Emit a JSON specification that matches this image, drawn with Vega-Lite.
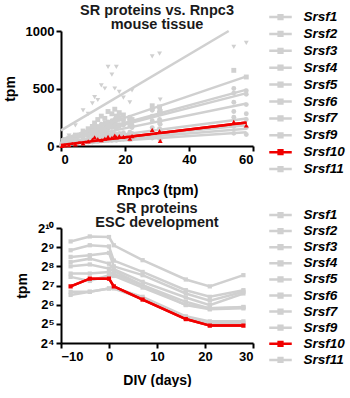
{
  "$schema": "https://vega.github.io/schema/vega-lite/v6.json",
  "background": "white",
  "padding": {"left": 3, "top": 2, "right": 0, "bottom": 0},
  "spacing": 3,
  "config": {
    "font": "Liberation Sans",
    "view": {"stroke": null},
    "axis": {"domainColor": "black", "domainWidth": 2, "tickColor": "black", "tickWidth": 2, "tickSize": 5, "labelFont": "Liberation Sans", "labelFontWeight": "bold", "labelFontSize": 13, "labelColor": "black", "titleFont": "Liberation Sans", "titleFontWeight": "bold", "titleFontSize": 14, "titleColor": "black", "grid": false, "labelPadding": 2},
    "title": {"font": "Liberation Sans", "fontSize": 14.5, "fontWeight": "bold", "color": "#1a1a1a", "anchor": "middle", "lineHeight": 14, "offset": -24},
    "legend": {"symbolType": "M-1.5,0H1.5M-0.25,-0.25H0.25V0.25H-0.25Z", "symbolSize": 225, "symbolStrokeWidth": 2.5, "labelFont": "Liberation Sans", "labelFontWeight": "bold", "labelFontStyle": "italic", "labelFontSize": 13.5, "labelColor": "black", "labelOffset": 14, "labelLimit": 200, "padding": 0}
  },
  "resolve": {"scale": {"color": "independent"}},
  "datasets": {
    "tissue": [
      {"x": 0.3, "Srsf1": 12, "Srsf2": 15, "Srsf3": 20, "Srsf4": 10, "Srsf5": 12, "Srsf6": 10, "Srsf7": 8, "Srsf9": 5, "Srsf10": 2, "Srsf11": 5},
      {"x": 1.2, "Srsf1": 40, "Srsf2": 45, "Srsf3": 60, "Srsf4": 30, "Srsf5": 35, "Srsf6": 30, "Srsf7": 20, "Srsf9": 15, "Srsf10": 5, "Srsf11": 12},
      {"x": 2.5, "Srsf1": 70, "Srsf2": 60, "Srsf3": 90, "Srsf4": 45, "Srsf5": 55, "Srsf6": 45, "Srsf7": 30, "Srsf9": 25, "Srsf10": 8, "Srsf11": 18},
      {"x": 4.5, "Srsf1": 95, "Srsf2": 85, "Srsf3": 180, "Srsf4": 60, "Srsf5": 80, "Srsf6": 65, "Srsf7": 40, "Srsf9": 30, "Srsf10": 15, "Srsf11": 25},
      {"x": 6.9, "Srsf1": 130, "Srsf2": 110, "Srsf3": 310, "Srsf4": 80, "Srsf5": 100, "Srsf6": 90, "Srsf7": 55, "Srsf9": 40, "Srsf10": 22, "Srsf11": 30},
      {"x": 8.5, "Srsf1": 150, "Srsf2": 130, "Srsf3": 280, "Srsf4": 90, "Srsf5": 120, "Srsf6": 100, "Srsf7": 60, "Srsf9": 45, "Srsf10": 40, "Srsf11": 35},
      {"x": 9.8, "Srsf1": 170, "Srsf2": 160, "Srsf3": 370, "Srsf4": 100, "Srsf5": 140, "Srsf6": 115, "Srsf7": 70, "Srsf9": 50, "Srsf10": 55, "Srsf11": 35},
      {"x": 10.5, "Srsf1": 200, "Srsf2": 180, "Srsf3": 426, "Srsf4": 110, "Srsf5": 150, "Srsf6": 120, "Srsf7": 75, "Srsf9": 55, "Srsf10": 75, "Srsf11": 40},
      {"x": 11.5, "Srsf1": 230, "Srsf2": 170, "Srsf3": 400, "Srsf4": 120, "Srsf5": 160, "Srsf6": 130, "Srsf7": 80, "Srsf9": 60, "Srsf10": 60, "Srsf11": 40},
      {"x": 12.6, "Srsf1": 260, "Srsf2": 190, "Srsf3": 528, "Srsf4": 130, "Srsf5": 170, "Srsf6": 140, "Srsf7": 90, "Srsf9": 65, "Srsf10": 50, "Srsf11": 45},
      {"x": 13.7, "Srsf1": 240, "Srsf2": 200, "Srsf3": 500, "Srsf4": 140, "Srsf5": 185, "Srsf6": 150, "Srsf7": 95, "Srsf9": 70, "Srsf10": 65, "Srsf11": 45},
      {"x": 14.7, "Srsf1": 300, "Srsf2": 210, "Srsf3": 687, "Srsf4": 150, "Srsf5": 190, "Srsf6": 160, "Srsf7": 100, "Srsf9": 75, "Srsf10": 80, "Srsf11": 50},
      {"x": 15.9, "Srsf1": 280, "Srsf2": 220, "Srsf3": 620, "Srsf4": 160, "Srsf5": 200, "Srsf6": 170, "Srsf7": 105, "Srsf9": 80, "Srsf10": 70, "Srsf11": 50},
      {"x": 16.8, "Srsf1": 320, "Srsf2": 230, "Srsf3": 500, "Srsf4": 165, "Srsf5": 210, "Srsf6": 175, "Srsf7": 110, "Srsf9": 85, "Srsf10": 90, "Srsf11": 55},
      {"x": 17.3, "Srsf1": 260, "Srsf2": 240, "Srsf3": 687, "Srsf4": 150, "Srsf5": 220, "Srsf6": 180, "Srsf7": 100, "Srsf9": 80, "Srsf10": 75, "Srsf11": 50},
      {"x": 18.2, "Srsf1": 290, "Srsf2": 250, "Srsf3": 470, "Srsf4": 170, "Srsf5": 230, "Srsf6": 185, "Srsf7": 110, "Srsf9": 85, "Srsf10": 85, "Srsf11": 55},
      {"x": 19.5, "Srsf1": 270, "Srsf2": 230, "Srsf3": 420, "Srsf4": 180, "Srsf5": 220, "Srsf6": 190, "Srsf7": 115, "Srsf9": 90, "Srsf10": 80, "Srsf11": 60},
      {"x": 21.5, "Srsf1": 240, "Srsf2": 250, "Srsf3": 380, "Srsf4": 175, "Srsf5": 230, "Srsf6": 200, "Srsf7": 120, "Srsf9": 90, "Srsf10": 65, "Srsf11": 55},
      {"x": 22.2, "Srsf1": 230, "Srsf2": 220, "Srsf3": 484, "Srsf4": 160, "Srsf5": 210, "Srsf6": 180, "Srsf7": 110, "Srsf9": 85, "Srsf10": 85, "Srsf11": 60},
      {"x": 28.5, "Srsf1": 350, "Srsf2": 320, "Srsf3": 780, "Srsf4": 220, "Srsf5": 310, "Srsf6": 260, "Srsf7": 160, "Srsf9": 110, "Srsf10": 140, "Srsf11": 70},
      {"x": 30.8, "Srsf1": 340, "Srsf2": 300, "Srsf3": 803, "Srsf4": 200, "Srsf5": 290, "Srsf6": 230, "Srsf7": 150, "Srsf9": 100, "Srsf10": 130, "Srsf11": 65},
      {"x": 31.0, "Srsf1": 300, "Srsf2": 280, "Srsf3": 403, "Srsf4": 190, "Srsf5": 280, "Srsf6": 220, "Srsf7": 140, "Srsf9": 95, "Srsf10": 45, "Srsf11": 60},
      {"x": 54.0, "Srsf1": 658, "Srsf2": 500, "Srsf3": 861, "Srsf4": 300, "Srsf5": 460, "Srsf6": 380, "Srsf7": 250, "Srsf9": 170, "Srsf10": 210, "Srsf11": 110},
      {"x": 57.9, "Srsf1": 600, "Srsf2": 480, "Srsf3": 896, "Srsf4": 280, "Srsf5": 450, "Srsf6": 360, "Srsf7": 230, "Srsf9": 160, "Srsf10": 180, "Srsf11": 100}
    ]
  },
  "vconcat": [
    {
      "title": {"text": ["SR proteins vs. Rnpc3", "mouse tissue"]},
      "width": 192,
      "height": 115,
      "layer": [
        {
          "data": {"values": [
            {"g": "Srsf1", "x1": 0, "y1": 55, "x2": 58, "y2": 606},
            {"g": "Srsf2", "x1": 0, "y1": 50, "x2": 58, "y2": 490},
            {"g": "Srsf3", "x1": 0, "y1": 136, "x2": 52.4, "y2": 1000},
            {"g": "Srsf4", "x1": 0, "y1": 30, "x2": 58, "y2": 240},
            {"g": "Srsf5", "x1": 0, "y1": 45, "x2": 58, "y2": 460},
            {"g": "Srsf6", "x1": 0, "y1": 40, "x2": 58, "y2": 370},
            {"g": "Srsf7", "x1": 0, "y1": 25, "x2": 58, "y2": 180},
            {"g": "Srsf9", "x1": 0, "y1": 20, "x2": 58, "y2": 150},
            {"g": "Srsf11", "x1": 0, "y1": 12, "x2": 58, "y2": 120},
            {"g": "Srsf10", "x1": 0, "y1": 8, "x2": 58, "y2": 205}
          ]},
          "mark": {"type": "rule", "strokeWidth": 2.5},
          "encoding": {
            "x": {"field": "x1", "type": "quantitative", "scale": {"domain": [0, 60], "nice": false}, "axis": {"values": [0, 20, 40, 60], "title": "Rnpc3  (tpm)", "titlePadding": 17}},
            "y": {"field": "y1", "type": "quantitative", "scale": {"domain": [0, 1000], "nice": false}, "axis": {"values": [0, 500, 1000], "format": "d", "title": "tpm", "titlePadding": 8}},
            "x2": {"field": "x2"},
            "y2": {"field": "y2"},
            "color": {"field": "g", "type": "nominal", "scale": {"domain": ["Srsf1", "Srsf2", "Srsf3", "Srsf4", "Srsf5", "Srsf6", "Srsf7", "Srsf9", "Srsf10", "Srsf11"], "range": ["#d0d0d0", "#d0d0d0", "#d0d0d0", "#d0d0d0", "#d0d0d0", "#d0d0d0", "#d0d0d0", "#d0d0d0", "#f00000", "#d0d0d0"]}, "legend": {"title": null, "orient": "none", "legendX": 210.5, "legendY": -23, "rowPadding": 0.9}}
          }
        },
        {
          "data": {"name": "tissue"},
          "transform": [{"fold": ["Srsf2", "Srsf4", "Srsf5", "Srsf6", "Srsf7", "Srsf9", "Srsf11"], "as": ["g", "y"]}],
          "mark": {"type": "point", "shape": "circle", "filled": true, "size": 24, "opacity": 1},
          "encoding": {
            "x": {"field": "x", "type": "quantitative"},
            "y": {"field": "y", "type": "quantitative"},
            "color": {"field": "g", "type": "nominal"}
          }
        },
        {
          "data": {"name": "tissue"},
          "transform": [{"fold": ["Srsf1"], "as": ["g", "y"]}],
          "mark": {"type": "point", "shape": "square", "filled": true, "size": 24, "opacity": 1},
          "encoding": {
            "x": {"field": "x", "type": "quantitative"},
            "y": {"field": "y", "type": "quantitative"},
            "color": {"field": "g", "type": "nominal"}
          }
        },
        {
          "data": {"name": "tissue"},
          "transform": [{"fold": ["Srsf3"], "as": ["g", "y"]}],
          "mark": {"type": "point", "shape": "triangle-down", "filled": true, "size": 24, "opacity": 1},
          "encoding": {
            "x": {"field": "x", "type": "quantitative"},
            "y": {"field": "y", "type": "quantitative"},
            "color": {"field": "g", "type": "nominal"}
          }
        },
        {
          "data": {"name": "tissue"},
          "transform": [{"fold": ["Srsf10"], "as": ["g", "y"]}],
          "mark": {"type": "point", "shape": "triangle-up", "filled": true, "size": 24, "opacity": 1},
          "encoding": {
            "x": {"field": "x", "type": "quantitative"},
            "y": {"field": "y", "type": "quantitative"},
            "color": {"field": "g", "type": "nominal"}
          }
        },
        {
          "data": {"values": [{"g": "Srsf10", "x1": 0, "y1": 8, "x2": 58, "y2": 205}]},
          "mark": {"type": "rule", "strokeWidth": 2.5},
          "encoding": {
            "x": {"field": "x1", "type": "quantitative"},
            "y": {"field": "y1", "type": "quantitative"},
            "x2": {"field": "x2"},
            "y2": {"field": "y2"},
            "color": {"field": "g", "type": "nominal"}
          }
        }
      ]
    },
    {
      "title": {"text": ["SR proteins", "ESC development"]},
      "width": 192,
      "height": 115,
      "data": {"values": [
        {"day": -8, "Srsf1": 630, "Srsf2": 458, "Srsf3": 360, "Srsf4": 300, "Srsf5": 256, "Srsf6": 197, "Srsf7": 175, "Srsf9": 102, "Srsf10": 124, "Srsf11": 91},
        {"day": -4, "Srsf1": 755, "Srsf2": 549, "Srsf3": 383, "Srsf4": 338, "Srsf5": 274, "Srsf6": 197, "Srsf7": 151, "Srsf9": 102, "Srsf10": 164, "Srsf11": 102},
        {"day": 0, "Srsf1": 739, "Srsf2": 526, "Srsf3": 416, "Srsf4": 282, "Srsf5": 236, "Srsf6": 209, "Srsf7": 186, "Srsf9": 115, "Srsf10": 164, "Srsf11": 115},
        {"day": 1, "Srsf1": 549, "Srsf2": 315, "Srsf3": 256, "Srsf4": 231, "Srsf5": 215, "Srsf6": 194, "Srsf7": 181, "Srsf9": 119, "Srsf10": 124, "Srsf11": 115},
        {"day": 7, "Srsf1": 320, "Srsf2": 209, "Srsf3": 186, "Srsf4": 146, "Srsf5": 130, "Srsf6": 130, "Srsf7": 119, "Srsf9": 85, "Srsf10": 77, "Srsf11": 79},
        {"day": 16, "Srsf1": 159, "Srsf2": 108, "Srsf3": 96, "Srsf4": 83, "Srsf5": 71, "Srsf6": 63, "Srsf7": 64, "Srsf9": 42, "Srsf10": 38, "Srsf11": 39},
        {"day": 21, "Srsf1": 124, "Srsf2": 85, "Srsf3": 74, "Srsf4": 63, "Srsf5": 56, "Srsf6": 54, "Srsf7": 56, "Srsf9": 35, "Srsf10": 30, "Srsf11": 33},
        {"day": 28, "Srsf1": 186, "Srsf2": 108, "Srsf3": 102, "Srsf4": 96, "Srsf5": 59, "Srsf6": 56, "Srsf7": 58, "Srsf9": 35, "Srsf10": 30, "Srsf11": 33}
      ]},
      "transform": [{"fold": ["Srsf1", "Srsf2", "Srsf3", "Srsf4", "Srsf5", "Srsf6", "Srsf7", "Srsf9", "Srsf11", "Srsf10"], "as": ["g", "tpm"]}],
      "layer": [
        {
          "mark": {"type": "line", "strokeWidth": 2.5},
          "encoding": {
            "x": {"field": "day", "type": "quantitative", "scale": {"domain": [-10, 30], "nice": false}, "axis": {"values": [-10, 0, 10, 20, 30], "title": "DIV (days)", "titlePadding": 10}},
            "y": {"field": "tpm", "type": "quantitative", "scale": {"type": "log", "base": 2, "domain": [16, 1024], "nice": false}, "axis": {"values": [16, 32, 64, 128, 256, 512, 1024], "title": "tpm", "titlePadding": 8, "labelExpr": "datum.value == 16 ? '2⁴' : datum.value == 32 ? '2⁵' : datum.value == 64 ? '2⁶' : datum.value == 128 ? '2⁷' : datum.value == 256 ? '2⁸' : datum.value == 512 ? '2⁹' : '2¹⁰'"}},
            "color": {"field": "g", "type": "nominal", "scale": {"domain": ["Srsf1", "Srsf2", "Srsf3", "Srsf4", "Srsf5", "Srsf6", "Srsf7", "Srsf9", "Srsf10", "Srsf11"], "range": ["#d0d0d0", "#d0d0d0", "#d0d0d0", "#d0d0d0", "#d0d0d0", "#d0d0d0", "#d0d0d0", "#d0d0d0", "#f00000", "#d0d0d0"]}, "legend": {"title": null, "orient": "none", "legendX": 210.5, "legendY": -22, "rowPadding": 0.1}}
          }
        },
        {
          "mark": {"type": "point", "shape": "square", "filled": true, "size": 18, "opacity": 1},
          "encoding": {
            "x": {"field": "day", "type": "quantitative"},
            "y": {"field": "tpm", "type": "quantitative"},
            "color": {"field": "g", "type": "nominal"}
          }
        },
        {
          "transform": [{"filter": "datum.g == 'Srsf10'"}],
          "mark": {"type": "line", "strokeWidth": 2.5},
          "encoding": {
            "x": {"field": "day", "type": "quantitative"},
            "y": {"field": "tpm", "type": "quantitative"},
            "color": {"field": "g", "type": "nominal"}
          }
        }
      ]
    }
  ]
}
